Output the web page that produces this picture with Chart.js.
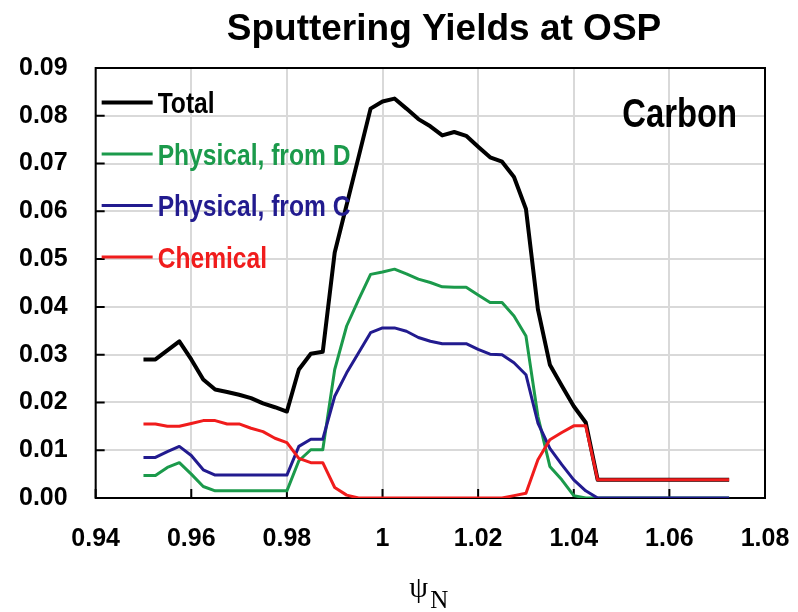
<!DOCTYPE html>
<html>
<head>
<meta charset="utf-8">
<script src="https://cdn.jsdelivr.net/npm/chart.js@4.4.0/dist/chart.umd.min.js"></script>
<style>
  html, body { margin: 0; padding: 0; background: #fff; }
  #wrap { width: 798px; height: 612px; }
</style>
</head>
<body>
<div id="wrap"><canvas id="yieldChart" width="798" height="612"></canvas></div>
<script>
// 横轴 psi_N
const psi = [0.95, 0.9525, 0.955, 0.9575, 0.96, 0.9625, 0.965, 0.9675, 0.97, 0.9725,
    0.975, 0.9775, 0.98, 0.9825, 0.985, 0.9875, 0.99, 0.9925, 0.995, 0.9975,
    1.0, 1.0025, 1.005, 1.0075, 1.01, 1.0125, 1.015, 1.0175, 1.02, 1.0225,
    1.025, 1.0275, 1.03, 1.0325, 1.035, 1.0375, 1.04, 1.0425, 1.045, 1.0475,
    1.05, 1.0525, 1.055, 1.0575, 1.06, 1.0625, 1.065, 1.0675, 1.07, 1.0725];

const totalYield = [0.0290, 0.0290, 0.0309, 0.0328, 0.0290, 0.0248, 0.0227, 0.0222, 0.0216, 0.0209,
    0.0198, 0.0190, 0.0181, 0.0269, 0.0302, 0.0306, 0.0514, 0.0614, 0.0714, 0.0815,
    0.0830, 0.0836, 0.0815, 0.0793, 0.0778, 0.0759, 0.0766, 0.0758, 0.0735, 0.0713,
    0.0704, 0.0672, 0.0605, 0.0395, 0.0279, 0.0235, 0.0192, 0.0158, 0.0038, 0.0038,
    0.0038, 0.0038, 0.0038, 0.0038, 0.0038, 0.0038, 0.0038, 0.0038, 0.0038, 0.0038];

const physicalD = [0.0047, 0.0047, 0.0064, 0.0074, 0.0050, 0.0024, 0.0015, 0.0015, 0.0015, 0.0015,
    0.0015, 0.0015, 0.0015, 0.0078, 0.0101, 0.0101, 0.0269, 0.0360, 0.0415, 0.0468,
    0.0473, 0.0479, 0.0469, 0.0458, 0.0451, 0.0442, 0.0441, 0.0441, 0.0425, 0.0409,
    0.0409, 0.0381, 0.0339, 0.0171, 0.0066, 0.0038, 0.0005, 0, 0, 0,
    0, 0, 0, 0, 0, 0, 0, 0, 0, 0];

const physicalC = [0.0085, 0.0085, 0.0097, 0.0108, 0.0089, 0.0059, 0.0048, 0.0048, 0.0048, 0.0048,
    0.0048, 0.0048, 0.0048, 0.0108, 0.0123, 0.0123, 0.0213, 0.0262, 0.0304, 0.0346,
    0.0356, 0.0356, 0.0349, 0.0336, 0.0328, 0.0323, 0.0323, 0.0323, 0.0311, 0.0301,
    0.0300, 0.0283, 0.0258, 0.0157, 0.0104, 0.0070, 0.0038, 0.0015, 0, 0,
    0, 0, 0, 0, 0, 0, 0, 0, 0, 0];

const chemical = [0.0155, 0.0155, 0.0150, 0.0150, 0.0156, 0.0162, 0.0162, 0.0155, 0.0155, 0.0146,
    0.0139, 0.0125, 0.0116, 0.0083, 0.0074, 0.0074, 0.0022, 0.0006, 0, 0,
    0, 0, 0, 0, 0, 0, 0, 0, 0, 0,
    0, 0.0005, 0.0010, 0.0080, 0.0122, 0.0137, 0.0151, 0.0151, 0.0038, 0.0038,
    0.0038, 0.0038, 0.0038, 0.0038, 0.0038, 0.0038, 0.0038, 0.0038, 0.0038, 0.0038];

const seriesNames = ['Total', 'Physical, from D', 'Physical, from C', 'Chemical'];
const seriesColors = ['#000000', '#1b9a4b', '#221b8f', '#f01c1c'];

const xTickValues = [0.94, 0.96, 0.98, 1.0, 1.02, 1.04, 1.06, 1.08];
const xTickLabels = ['0.94', '0.96', '0.98', '1', '1.02', '1.04', '1.06', '1.08'];
const yTickValues = [0, 0.01, 0.02, 0.03, 0.04, 0.05, 0.06, 0.07, 0.08, 0.09];
const yTickLabels = ['0.00', '0.01', '0.02', '0.03', '0.04', '0.05', '0.06', '0.07', '0.08', '0.09'];

function toPoints(ys) {
    return psi.map((x, i) => ({ x: x, y: ys[i] }));
}

const sansBold = '"Liberation Sans", Arial, sans-serif';

// 压窄的粗体文字（没有 Narrow 字体，用水平缩放代替）
function narrowText(ctx, text, x, y, size, align) {
    ctx.save();
    ctx.font = 'bold ' + size + 'px ' + sansBold;
    ctx.textAlign = align;
    ctx.translate(x, y);
    ctx.scale(0.82, 1);
    ctx.fillText(text, 0, 0);
    ctx.restore();
}

// 边框 + 向内的刻度
const frameTicks = {
    id: 'frameTicks',
    beforeDatasetsDraw(chart) {
        const { ctx, chartArea: a, scales } = chart;
        ctx.save();
        ctx.strokeStyle = '#000';
        ctx.lineWidth = 2;
        ctx.strokeRect(a.left, a.top, a.right - a.left, a.bottom - a.top);
        ctx.beginPath();
        scales.x.ticks.forEach(t => {
            const px = scales.x.getPixelForValue(t.value);
            ctx.moveTo(px, a.bottom);
            ctx.lineTo(px, a.bottom - 9);
        });
        scales.y.ticks.forEach(t => {
            const py = scales.y.getPixelForValue(t.value);
            ctx.moveTo(a.left, py);
            ctx.lineTo(a.left + 9, py);
        });
        ctx.stroke();
        ctx.restore();
    }
};

// 标题、图内图例、Carbon 标注、横轴标题
const insideLabels = {
    id: 'insideLabels',
    afterDraw(chart) {
        const { ctx, chartArea: a } = chart;
        ctx.save();
        ctx.textBaseline = 'alphabetic';

        ctx.fillStyle = '#000';
        ctx.font = 'bold 37px ' + sansBold;
        ctx.textAlign = 'center';
        ctx.fillText('Sputtering Yields at OSP', 444, 40);

        seriesNames.forEach((name, i) => {
            const cy = a.top + 34.5 + i * 51.5;
            ctx.strokeStyle = seriesColors[i];
            ctx.lineWidth = i === 0 ? 4 : 3;
            ctx.beginPath();
            ctx.moveTo(a.left + 6, cy);
            ctx.lineTo(a.left + 57, cy);
            ctx.stroke();
            ctx.fillStyle = seriesColors[i];
            narrowText(ctx, name, a.left + 62, cy + 10.7, 30, 'left');
        });

        ctx.fillStyle = '#000';
        narrowText(ctx, 'Carbon', a.right - 28, a.top + 59, 40, 'right');

        const cx = (a.left + a.right) / 2;
        ctx.textAlign = 'left';
        ctx.font = '30px "Liberation Serif", "DejaVu Serif", serif';
        ctx.fillText('\u03C8', cx - 21, a.bottom + 99);
        ctx.font = '25px "Liberation Serif", "DejaVu Serif", serif';
        ctx.fillText('N', cx, a.bottom + 110);
        ctx.restore();
    }
};

const tickFont = { family: sansBold, size: 25, weight: 'bold' };

new Chart(document.getElementById('yieldChart').getContext('2d'), {
    type: 'line',
    data: {
        datasets: [
            { label: seriesNames[0], data: toPoints(totalYield), borderColor: seriesColors[0], borderWidth: 4, order: 3 },
            { label: seriesNames[1], data: toPoints(physicalD), borderColor: seriesColors[1], borderWidth: 3, order: 2 },
            { label: seriesNames[2], data: toPoints(physicalC), borderColor: seriesColors[2], borderWidth: 3, order: 1 },
            { label: seriesNames[3], data: toPoints(chemical), borderColor: seriesColors[3], borderWidth: 3, order: 0 }
        ]
    },
    options: {
        responsive: false,
        animation: false,
        events: [],
        elements: {
            point: { radius: 0 },
            line: { tension: 0, fill: false, borderJoinStyle: 'round' }
        },
        layout: { padding: { left: 19, right: 33, top: 68, bottom: 58 } },
        plugins: {
            legend: { display: false },
            tooltip: { enabled: false },
            title: { display: false }
        },
        scales: {
            x: {
                type: 'linear',
                min: 0.94,
                max: 1.08,
                afterBuildTicks: axis => { axis.ticks = xTickValues.map(v => ({ value: v })); },
                ticks: {
                    color: '#000',
                    font: tickFont,
                    padding: 0,
                    maxRotation: 0,
                    autoSkip: false,
                    callback: (value, index) => xTickLabels[index]
                },
                grid: { color: '#d9d9d9', lineWidth: 2, drawTicks: true, tickLength: 26, tickColor: 'rgba(0,0,0,0)' },
                border: { display: false }
            },
            y: {
                min: 0,
                max: 0.09,
                afterBuildTicks: axis => { axis.ticks = yTickValues.map(v => ({ value: v })); },
                ticks: {
                    color: '#000',
                    font: tickFont,
                    padding: 0,
                    autoSkip: false,
                    callback: (value, index) => yTickLabels[index]
                },
                grid: { color: '#d9d9d9', lineWidth: 2, drawTicks: true, tickLength: 28, tickColor: 'rgba(0,0,0,0)' },
                border: { display: false }
            }
        }
    },
    plugins: [frameTicks, insideLabels]
});
</script>
</body>
</html>
